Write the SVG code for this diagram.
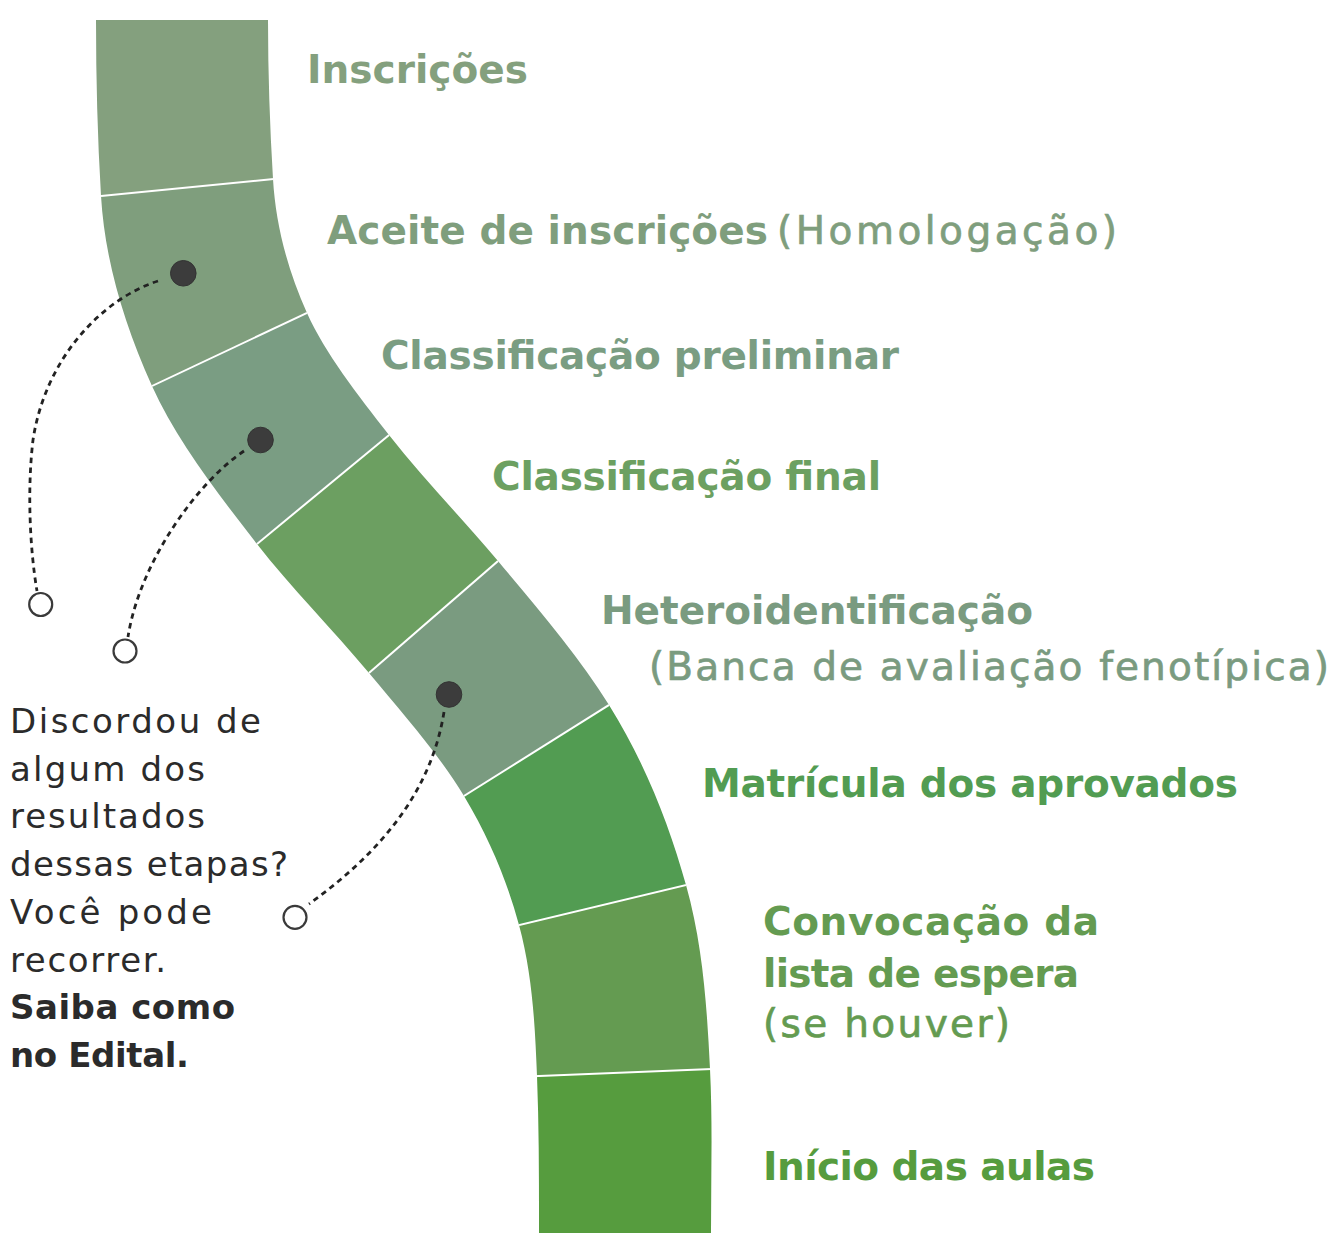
<svg xmlns="http://www.w3.org/2000/svg" width="1333" height="1233" viewBox="0 0 1333 1233">
<style>
.lbl{font-family:"DejaVu Sans","Open Sans","Liberation Sans",sans-serif;font-size:39px;font-weight:700}
.sub{font-weight:400;stroke-width:0.7px}
.note{font-family:"DejaVu Sans","Open Sans","Liberation Sans",sans-serif;font-size:34px;font-weight:400;fill:#2b2b2b}
.noteb{font-weight:700}
.sep{stroke:#ffffff;stroke-width:2;fill:none}
.dash{fill:none;stroke:#222222;stroke-width:2.8;stroke-dasharray:5.5 4.5}
.dot{fill:#3c3c3c;stroke:#333333;stroke-width:1}
.ring{fill:#ffffff;stroke:#3a3a3a;stroke-width:2.2}
</style>
<defs>
<clipPath id="roadClip">
<path d="M96,20 C96,78.67 97.48,137.33 101,196 C104.8,259.33 123.5,322.67 152,386 C175.7,438.67 215.92,491.33 257,544 C290.54,587 333.31,630 369,673 C403.03,714 439.4,755 464,796 C489.8,839 507.39,882 519,925 C532.59,975.33 534.99,1025.67 537,1076 C539.09,1128.33 539,1180.67 539,1233 L711,1233 C711,1178.33 712.73,1123.67 710,1069 C706.93,1007.67 703.17,946.33 686,885 C669.2,825 646.2,765 609,705 C579.24,657 538.32,609 498,561 C462.72,519 421.76,477 389,435 C357.28,394.33 325.3,353.67 307,313 C286.9,268.33 275.68,223.67 273,179 C269.82,126 268,73 268,20 Z"/>
</clipPath>
</defs>
<rect width="1333" height="1233" fill="#ffffff"/>
<g id="road" clip-path="url(#roadClip)">
<polygon id="seg-inscricoes" fill="#84a07e" points="30,0 340,0 322.8,174.1 51.2,200.9"/>
<polygon id="seg-aceite" fill="#7f9e7d" points="51.2,200.9 322.8,174.1 352.2,291.7 106.8,407.3"/>
<polygon id="seg-preliminar" fill="#7a9d83" points="106.8,407.3 352.2,291.7 427.6,403.2 218.4,575.8"/>
<polygon id="seg-final" fill="#6c9f61" points="218.4,575.8 427.6,403.2 535.8,528.2 331.2,705.8"/>
<polygon id="seg-hetero" fill="#7a9b80" points="331.2,705.8 535.8,528.2 651.4,678.4 421.6,822.6"/>
<polygon id="seg-matricula" fill="#529c52" points="421.6,822.6 651.4,678.4 734.6,873.3 470.4,936.7"/>
<polygon id="seg-convocacao" fill="#649b51" points="470.4,936.7 734.6,873.3 760,1067 487,1078"/>
<polygon id="seg-inicio" fill="#569c3e" points="487,1078 760,1067 790,1240 460,1240"/>
<line class="sep" x1="51.2" y1="200.9" x2="322.8" y2="174.1"/>
<line class="sep" x1="106.8" y1="407.3" x2="352.2" y2="291.7"/>
<line class="sep" x1="218.4" y1="575.8" x2="427.6" y2="403.2"/>
<line class="sep" x1="331.2" y1="705.8" x2="535.8" y2="528.2"/>
<line class="sep" x1="421.6" y1="822.6" x2="651.4" y2="678.4"/>
<line class="sep" x1="470.4" y1="936.7" x2="734.6" y2="873.3"/>
<line class="sep" x1="487" y1="1078" x2="760" y2="1067"/>
</g>
<g id="connectors">
<path class="dash" d="M158,281 C100,300 45,360 33,440 C27,490 30,550 37,591"/>
<path class="dash" d="M244,451 C200,480 140,560 128,637"/>
<path class="dash" d="M444,712 C430,800 370,860 309,904"/>
</g>
<g id="markers">
<circle class="dot" cx="183.3" cy="273.3" r="12.8"/>
<circle class="dot" cx="260.5" cy="440" r="12.8"/>
<circle class="dot" cx="449" cy="694.5" r="12.8"/>
<circle class="ring" cx="40.7" cy="604.5" r="11.5"/>
<circle class="ring" cx="125" cy="651" r="11.5"/>
<circle class="ring" cx="295" cy="917.3" r="11.5"/>
</g>
<g id="label-inscricoes"><text class="lbl" x="307" y="83" fill="#84a07e" textLength="221" lengthAdjust="spacing">Inscrições</text></g>
<g id="label-aceite">
<text class="lbl" x="327" y="244" fill="#7f9e7d" textLength="441" lengthAdjust="spacing">Aceite de inscrições</text>
<text class="lbl sub" x="777" y="244" fill="#7f9e7d" stroke="#7f9e7d" textLength="340" lengthAdjust="spacing">(Homologação)</text>
</g>
<g id="label-preliminar"><text class="lbl" x="381" y="369" fill="#7a9d82" textLength="518" lengthAdjust="spacing">Classificação preliminar</text></g>
<g id="label-final"><text class="lbl" x="492" y="490" fill="#6ca061" textLength="389" lengthAdjust="spacing">Classificação final</text></g>
<g id="label-hetero">
<text class="lbl" x="601" y="624" fill="#7a9b80" textLength="432" lengthAdjust="spacing">Heteroidentificação</text>
<text class="lbl sub" x="649" y="680" fill="#7a9b80" stroke="#7a9b80" textLength="680" lengthAdjust="spacing">(Banca de avaliação fenotípica)</text>
</g>
<g id="label-matricula"><text class="lbl" x="702" y="797" fill="#529c52" textLength="536" lengthAdjust="spacing">Matrícula dos aprovados</text></g>
<g id="label-convocacao">
<text class="lbl" x="763" y="935" fill="#649b51" textLength="336" lengthAdjust="spacing">Convocação da</text>
<text class="lbl" x="763" y="987" fill="#649b51" textLength="316" lengthAdjust="spacing">lista de espera</text>
<text class="lbl sub" x="763" y="1037" fill="#649b51" stroke="#649b51" textLength="247" lengthAdjust="spacing">(se houver)</text>
</g>
<g id="label-inicio"><text class="lbl" x="763" y="1180" fill="#569c3e" textLength="332" lengthAdjust="spacing">Início das aulas</text></g>
<g id="note">
<text class="note" x="10" y="733" textLength="251" lengthAdjust="spacing">Discordou de</text>
<text class="note" x="10" y="781" textLength="195" lengthAdjust="spacing">algum dos</text>
<text class="note" x="10" y="828" textLength="195" lengthAdjust="spacing">resultados</text>
<text class="note" x="10" y="876" textLength="278" lengthAdjust="spacing">dessas etapas?</text>
<text class="note" x="10" y="924" textLength="202" lengthAdjust="spacing">Você pode</text>
<text class="note" x="10" y="972" textLength="156" lengthAdjust="spacing">recorrer.</text>
<text class="note noteb" x="10" y="1019" textLength="225" lengthAdjust="spacing">Saiba como</text>
<text class="note noteb" x="10" y="1067" textLength="179" lengthAdjust="spacing">no Edital.</text>
</g>
</svg>
